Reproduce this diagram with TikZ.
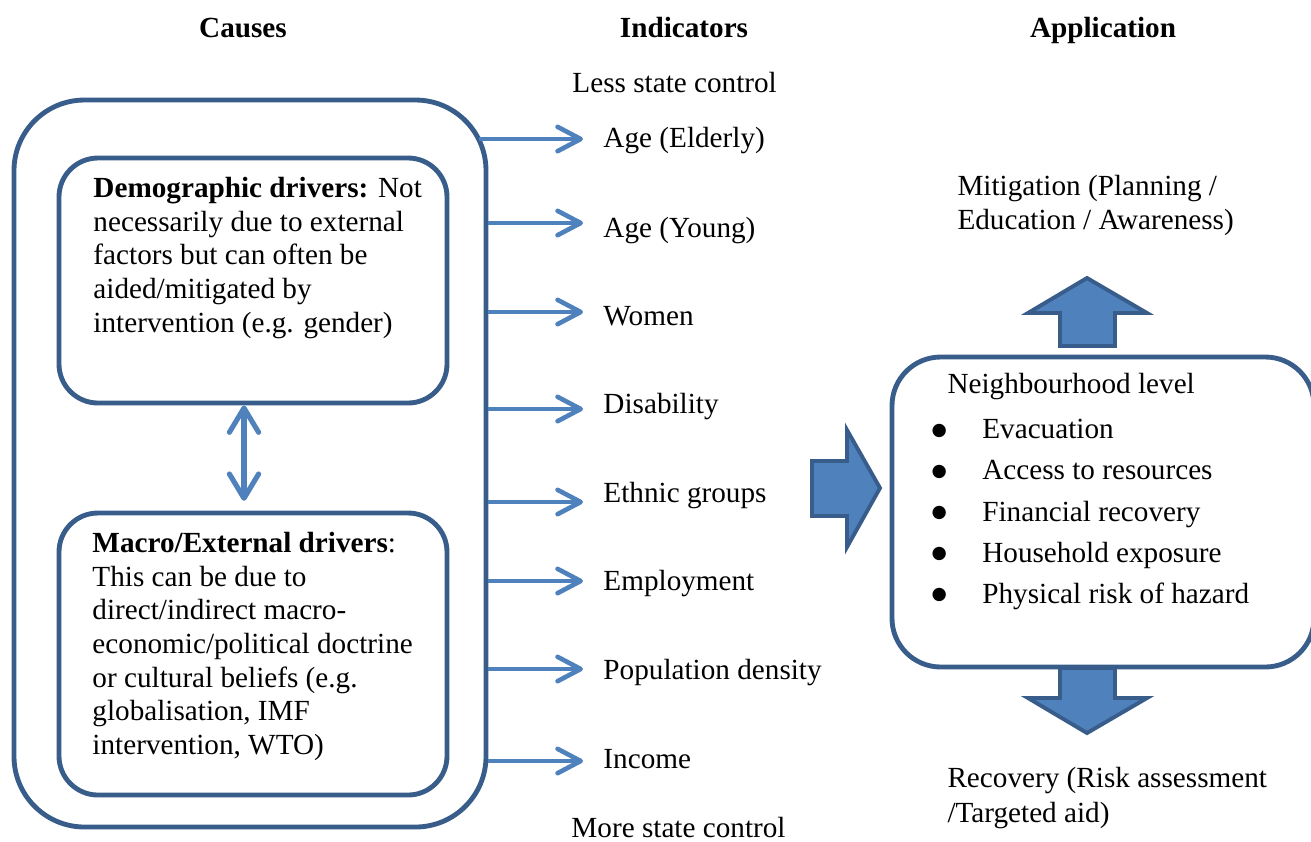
\documentclass[tikz,border=0pt]{standalone}
\usepackage{fontspec}
\setmainfont{Liberation Serif}
\newfontfamily\dotfont{DejaVu Sans}
\usepackage{xcolor}
\usepackage{tikz}
\usetikzlibrary{arrows.meta}
\usetikzlibrary{calc}
\usetikzlibrary{positioning}
\usetikzlibrary{fit}

\definecolor{rimblue}{HTML}{385D8A}
\definecolor{fillblue}{HTML}{4F81BD}

\newcommand{\hoodbullet}{\makebox[20.9pt][l]{\dotfont\fontsize{7.2}{7.2}\selectfont\raisebox{1.5pt}{●}}}

\begin{document}
\begin{tikzpicture}[x=0.411pt,y=-0.411pt,
                    every node/.style={font=\fontsize{12}{13.8}\selectfont,inner sep=0pt},
                    head/.style={anchor=base,font=\fontsize{12}{13.8}\selectfont\bfseries},
                    frame/.style={draw=rimblue,line width=2pt,rounded corners=#1,inner sep=0pt},
                    ind/.style={draw=fillblue,line width=1.9pt,
                        -{Straight Barb[length=9.5pt,width=10pt,round]}},
                    dbl/.style={draw=fillblue,line width=2.1pt,
                        {Straight Barb[length=10pt,width=12pt,round]}-{Straight Barb[length=10pt,width=12pt,round]}},
                    blockarrow/.style={fill=fillblue,draw=rimblue,line width=1.6pt},
                    indlbl/.style={anchor=base west}]

    \useasboundingbox (0,0) rectangle (1311,841);

    % column heads
    \node[head] (causes) at (243,37) {Causes};
    \node[head] (indic) at (684,37) {Indicators};
    \node[head] (appl) at (1103,37) {Application};

    % causes
    \node[frame=29pt, fit={(14,100) (486,827)}] (outer) {};
    \node[frame=16pt, fit={(59,158) (447,403)}] (demo) {};
    \node[frame=16pt, fit={(59,513) (447,795)}] (macro) {};
    \node[anchor=north west, align=left] (demotxt) at (93,177)
        {\textbf{Demographic drivers:} Not\\necessarily due to external\\factors but can often be\\aided/mitigated by\\intervention (e.g. gender)};
    \node[anchor=north west, align=left] (macrotxt) at (92,532)
        {\textbf{Macro/External drivers}:\\This can be due to\\direct/indirect macro-\\economic/political doctrine\\or cultural beliefs (e.g.\\globalisation, IMF\\intervention, WTO)};
    \draw[dbl, shorten >=4pt] ([xshift=-3.7pt]demo.south) -- ([xshift=-3.7pt]macro.north);

    % indicators
    \node[indlbl] (less) at (572,92) {Less state control};
    \node[indlbl] (elderly) at (603,147) {Age (Elderly)};
    \node[indlbl] (young) at (603,237) {Age (Young)};
    \node[indlbl] (women) at (603,325) {Women};
    \node[indlbl] (disab) at (603,413) {Disability};
    \node[indlbl] (ethnic) at (603,502) {Ethnic groups};
    \node[indlbl] (employ) at (603,590) {Employment};
    \node[indlbl] (popden) at (603,679) {Population density};
    \node[indlbl] (income) at (603,768) {Income};
    \node[indlbl] (more) at (571,837) {More state control};

    \coordinate (selderly) at (479,139);
    \coordinate (telderly) at (583,139);
    \coordinate (tyoung) at (583,223);
    \coordinate (twomen) at (583,312);
    \coordinate (tdisab) at (583,409);
    \coordinate (tethnic) at (583,502);
    \coordinate (temploy) at (583,581);
    \coordinate (tpopden) at (583,669);
    \coordinate (tincome) at (583,761);

    \draw[ind] (selderly) -- (telderly);
    \draw[ind] (outer.east |- tyoung) -- (tyoung);
    \draw[ind] (outer.east |- twomen) -- (twomen);
    \draw[ind] (outer.east |- tdisab) -- (tdisab);
    \draw[ind] (outer.east |- tethnic) -- (tethnic);
    \draw[ind] (outer.east |- temploy) -- (temploy);
    \draw[ind] (outer.east |- tpopden) -- (tpopden);
    \draw[ind] (outer.east |- tincome) -- (tincome);

    % application
    \filldraw[blockarrow] (812,461) -- (847,461) -- (847,430) -- (880,488)
        -- (847,547) -- (847,516) -- (812,516) -- cycle;
    \node[frame=20pt, fit={(892,357) (1314,667)}] (hood) {};
    \node[indlbl] (hoodhead) at (947,393) {Neighbourhood level};
    \node[anchor=north west, align=left, font=\fontsize{12}{16.9}\selectfont] (hoodlist) at (931,419)
        {\hoodbullet Evacuation\\
         \hoodbullet Access to resources\\
         \hoodbullet Financial recovery\\
         \hoodbullet Household exposure\\
         \hoodbullet Physical risk of hazard};

    \filldraw[blockarrow] (1060,346) -- (1060,313) -- (1028,313) -- (1087,278)
        -- (1147,313) -- (1115,313) -- (1115,346) -- cycle;
    \filldraw[blockarrow] (1060,668) -- (1060,698) -- (1028,698) -- (1087,733)
        -- (1147,698) -- (1115,698) -- (1115,668) -- cycle;

    \node[anchor=north west, align=left] (mitig) at (957,175)
        {Mitigation (Planning /\\Education / Awareness)};
    \node[anchor=north west, align=left, font=\fontsize{12}{14.4}\selectfont] (recov) at (947,767)
        {Recovery (Risk assessment\\/Targeted aid)};
\end{tikzpicture}
\end{document}
